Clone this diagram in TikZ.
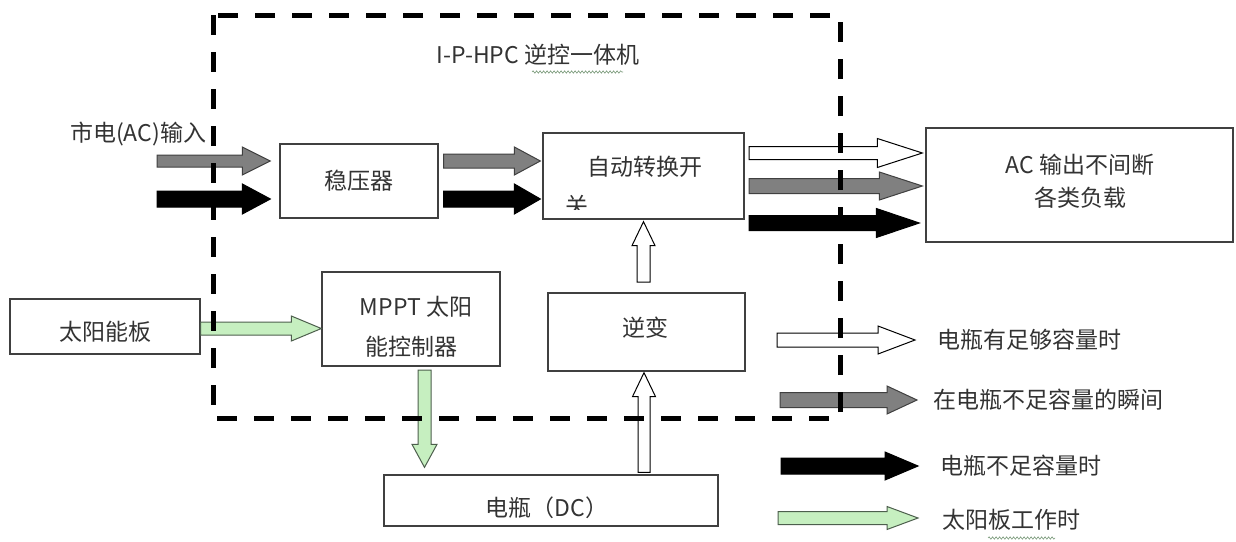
\documentclass[tikz,border=0pt]{standalone}
\usepackage{fontspec}
\setmainfont{Noto Sans CJK SC}
\usetikzlibrary{calc,decorations.pathmorphing}
\definecolor{txt}{HTML}{333333}
\definecolor{edge}{HTML}{404040}
\definecolor{gfill}{HTML}{808080}
\definecolor{lgreen}{HTML}{C6EFC0}
\definecolor{gedge}{HTML}{4D5F4D}
\definecolor{wavy}{HTML}{7A9A7A}
% block arrow: #1 style, #2 start, #3 tip, #4 shaft half width, #5 head half width, #6 head length
\newcommand\barrow[6]{%
  \coordinate (bh) at ($(#3)!#6!(#2)$);
  \draw[#1] ($(#2)!#4!90:(#3)$) -- ($(bh)!#4!90:(#3)$) -- ($(bh)!#5!90:(#3)$) -- (#3)
    -- ($(bh)!#5!-90:(#3)$) -- ($(bh)!#4!-90:(#3)$) -- ($(#2)!#4!-90:(#3)$) -- cycle;}
\tikzset{
  box/.style={draw=edge, line width=1.3pt, fill=white, inner sep=0pt, text=txt,
    font=\fontsize{23}{27}\selectfont},
  lbl/.style={text=txt, inner sep=0pt, font=\fontsize{23}{27}\selectfont},
  whitearr/.style={draw=black, line width=1pt, fill=white, line join=miter},
  grayarr/.style={draw=edge, line width=1pt, fill=gfill, line join=miter},
  blackarr/.style={draw=black, line width=1pt, fill=black, line join=miter},
  greenarr/.style={draw=gedge, line width=1pt, fill=lgreen, line join=miter},
  frame/.style={draw=black, line width=5pt, dash pattern=on 20pt off 17pt},
  wavyline/.style={draw=wavy, line width=0.6pt, decorate,
    decoration={snake, amplitude=1.2pt, segment length=3.5pt}}
}
\begin{document}
\begin{tikzpicture}[x=1pt,y=-1pt]
\useasboundingbox[fill=white] (0,0) rectangle (1236,541);

% boxes
\node[box, minimum width=158pt, minimum height=74pt] (wy) at (359,181) {稳压器};
\node[box, minimum width=201pt, minimum height=86pt] (sw) at (643.5,176) {};
\node[box, minimum width=307pt, minimum height=114pt] (ac) at (1079.5,185) {};
\node[box, minimum width=190pt, minimum height=55pt] (sp) at (105,326.5) {};
\node[box, minimum width=178pt, minimum height=94pt] (mppt) at (411,319) {};
\node[box, minimum width=197pt, minimum height=78pt] (inv) at (646.5,332) {};
\node[box, minimum width=334pt, minimum height=51pt] (bat) at (551,500.5) {};

% texts
\node[lbl] (title) at (538,55) {I-P-HPC\ 逆控一体机};
\draw[wavyline] (532,72) -- (623,72);
\node[lbl] (acin) at (138,134) {市电(AC)输入};
\node[lbl] (swt1) at (645,167) {自动转换开};
\begin{scope}
  \clip (555,180) rectangle (600,209);
  \node[lbl] (swt2) at (577,206) {关};
\end{scope}
\node[lbl] (act1) at (1080,165) {AC 输出不间断};
\node[lbl] (act2) at (1080,198) {各类负载};
\node[lbl] (spt) at (105,332) {太阳能板};
\node[lbl] (mpt1) at (416,307) {MPPT 太阳};
\node[lbl] (mpt2) at (411,347) {能控制器};
\node[lbl] (invt) at (645,328) {逆变};
\node[lbl] (batt) at (547,508) {电瓶（DC）};

% arrow end points
\coordinate (i1s) at (157,161);   \coordinate (i1e) at ($(wy.west |- i1s)+(-9,0)$);
\coordinate (i2s) at (157,199);   \coordinate (i2e) at ($(wy.west |- i2s)+(-9,0)$);
\coordinate (m1s) at ($(wy.east |- i1s)+(5,0)$); \coordinate (m1e) at ($(sw.west |- i1s)+(-2,0)$);
\coordinate (m2s) at ($(wy.east |- i2s)+(5,0)$); \coordinate (m2e) at ($(sw.west |- i2s)+(-2,0)$);
\coordinate (o1s) at (749,153);   \coordinate (o1e) at ($(ac.west |- o1s)+(-3,0)$);
\coordinate (o2s) at (749,186);   \coordinate (o2e) at ($(ac.west |- o2s)+(-3,0)$);
\coordinate (o3s) at (749,223);   \coordinate (o3e) at ($(ac.west |- o3s)+(-6,0)$);
\coordinate (g1s) at (sp.east |- 0,328.5); \coordinate (g1e) at (mppt.west |- 0,328.5);
\coordinate (g2s) at (424.5,370); \coordinate (g2e) at ($(bat.north -| g2s)+(0,-7)$);
\coordinate (u1s) at (643.5,282); \coordinate (u1e) at ($(sw.south -| u1s)+(0,2)$);
\coordinate (u2s) at ($(bat.north -| 644,0)+(0,-2)$); \coordinate (u2e) at ($(inv.south -| 644,0)+(0,1)$);

\barrow{grayarr}{i1s}{i1e}{6pt}{14pt}{28pt}
\barrow{blackarr}{i2s}{i2e}{8pt}{15pt}{28pt}
\barrow{grayarr}{m1s}{m1e}{7pt}{14pt}{26pt}
\barrow{blackarr}{m2s}{m2e}{8pt}{15pt}{26pt}
\barrow{whitearr}{o1s}{o1e}{6.5pt}{14.5pt}{45pt}
\barrow{grayarr}{o2s}{o2e}{7.5pt}{14pt}{43pt}
\barrow{blackarr}{o3s}{o3e}{7.5pt}{14.5pt}{43pt}
\barrow{greenarr}{g1s}{g1e}{6.5pt}{12.5pt}{30pt}
\barrow{greenarr}{g2s}{g2e}{6.5pt}{12.5pt}{23pt}
\barrow{whitearr}{u1s}{u1e}{6.5pt}{11.5pt}{24pt}
\barrow{whitearr}{u2s}{u2e}{6pt}{11.5pt}{24pt}

% legend
\coordinate (l1s) at (777,340); \coordinate (l1e) at (915,340);
\coordinate (l2s) at (780,400); \coordinate (l2e) at (917,400);
\coordinate (l3s) at (781,466); \coordinate (l3e) at (918,466);
\coordinate (l4s) at (778,518); \coordinate (l4e) at (918,518);
\barrow{whitearr}{l1s}{l1e}{7pt}{14pt}{37pt}
\barrow{grayarr}{l2s}{l2e}{7.5pt}{14pt}{30pt}
\barrow{blackarr}{l3s}{l3e}{8pt}{14pt}{33pt}
\barrow{greenarr}{l4s}{l4e}{6.5pt}{11.5pt}{31pt}
\node[lbl, anchor=west] (lt1) at (937,340) {电瓶有足够容量时};
\node[lbl, anchor=west] (lt2) at (933,400) {在电瓶不足容量的瞬间};
\node[lbl, anchor=west] (lt3) at (940,466) {电瓶不足容量时};
\node[lbl, anchor=west] (lt4) at (942,520) {太阳板工作时};
\draw[wavyline] (988,538) -- (1055,538);

% dashed frame on top
\draw[frame] (213,15) rectangle (840,418);
\end{tikzpicture}
\end{document}
